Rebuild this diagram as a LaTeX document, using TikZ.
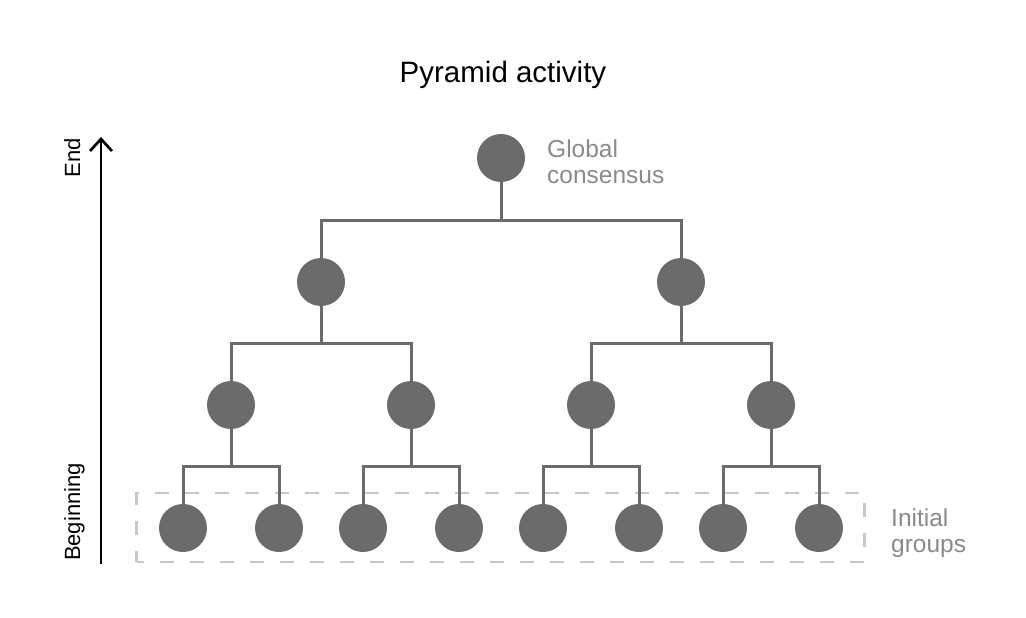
\documentclass[tikz,border=0pt]{standalone}
\usepackage{fontspec}
\setmainfont{Liberation Sans}
\usetikzlibrary{arrows.meta}
\definecolor{nodegray}{HTML}{6B6B6B}
\definecolor{labelgray}{HTML}{8A8A8A}
\definecolor{boxgray}{HTML}{C8C8C8}
\begin{document}
\begin{tikzpicture}[x=1pt,y=-1pt,
  dot/.style={circle,fill=nodegray,minimum size=48pt,inner sep=0pt},
  link/.style={draw=nodegray,line width=3pt},
  lbl/.style={text=labelgray,font=\fontsize{24.5}{26}\selectfont,align=left,anchor=base west,inner sep=0pt},
  axislbl/.style={font=\fontsize{22}{26}\selectfont,rotate=90,inner sep=0pt,text height=0.75em,text depth=0.25em,anchor=center}]
\useasboundingbox (0,0) rectangle (1026,618);
\node[font=\fontsize{29.5}{34}\selectfont,anchor=base,inner sep=0pt] (title) at (503,82) {Pyramid activity};
% dashed box
\node[draw=boxgray,dash pattern=on 14pt off 16pt,dash phase=7pt,line width=2.7pt,minimum width=728pt,minimum height=69pt,inner sep=0pt] (box) at (500.5,527.5) {};
% nodes
\node[dot] (r) at (501,158) {};
\node[dot] (a) at (321,282) {};
\node[dot] (b) at (681,282) {};
\node[dot] (a1) at (231,405) {};
\node[dot] (a2) at (411,405) {};
\node[dot] (b1) at (591,405) {};
\node[dot] (b2) at (771,405) {};
\node[dot] (l1) at (183,528) {};
\node[dot] (l2) at (279,528) {};
\node[dot] (l3) at (363,528) {};
\node[dot] (l4) at (459,528) {};
\node[dot] (l5) at (543,528) {};
\node[dot] (l6) at (639,528) {};
\node[dot] (l7) at (723,528) {};
\node[dot] (l8) at (819,528) {};
% connectors
\draw[link] (r.south) -- (r.south |- 0,220) -| (a.north);
\draw[link] (r.south |- 0,220) -| (b.north);
\draw[link] (a.south) -- (a.south |- 0,343) -| (a1.north);
\draw[link] (a.south |- 0,343) -| (a2.north);
\draw[link] (b.south) -- (b.south |- 0,343) -| (b1.north);
\draw[link] (b.south |- 0,343) -| (b2.north);
\draw[link] (a1.south) -- (a1.south |- 0,466) -| (l1.north);
\draw[link] (a1.south |- 0,466) -| (l2.north);
\draw[link] (a2.south) -- (a2.south |- 0,466) -| (l3.north);
\draw[link] (a2.south |- 0,466) -| (l4.north);
\draw[link] (b1.south) -- (b1.south |- 0,466) -| (l5.north);
\draw[link] (b1.south |- 0,466) -| (l6.north);
\draw[link] (b2.south) -- (b2.south |- 0,466) -| (l7.north);
\draw[link] (b2.south |- 0,466) -| (l8.north);
% labels
\node[lbl] (gl) at (547,183) {Global\\consensus};
\node[lbl] (ig) at (891,552) {Initial\\groups};
% axis
\coordinate (axb) at (101,564);
\coordinate (axt) at (101,137);
\draw[line width=2.7pt,-{Straight Barb[length=12pt,width=22pt,line width=2.7pt]}] (axb) -- (axt);
\node[axislbl] (beg) at (77.5,512) {Beginning};
\node[axislbl] (end) at (77.5,158) {End};
\end{tikzpicture}
\end{document}
